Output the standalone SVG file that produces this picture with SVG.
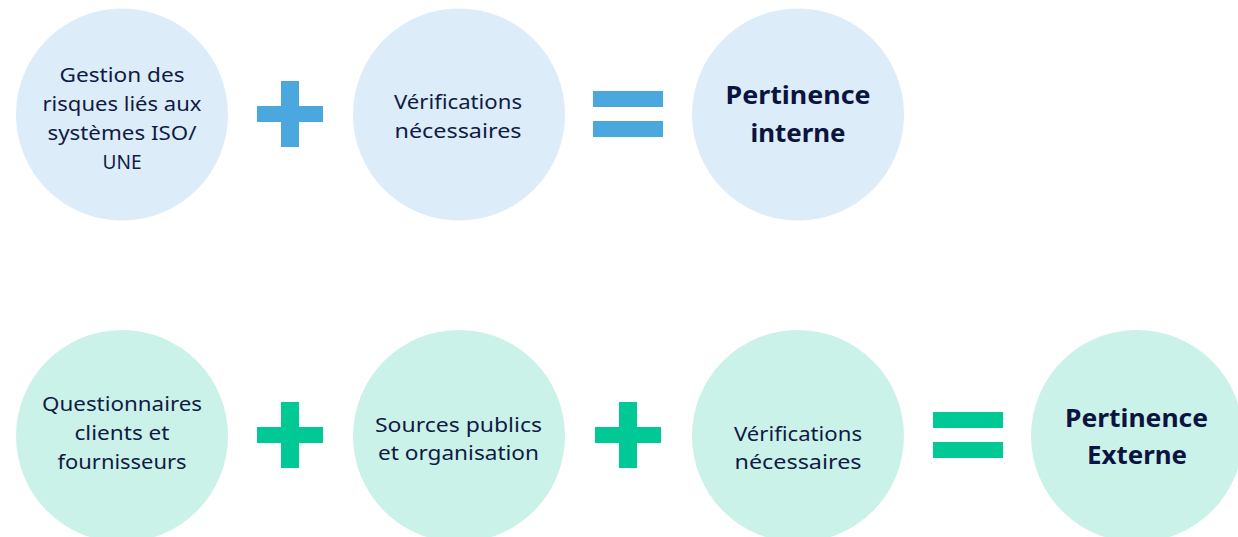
<svg xmlns="http://www.w3.org/2000/svg" xmlns:xlink="http://www.w3.org/1999/xlink" width="1238" height="537" viewBox="0 0 1238 537">
<style>
.blue{fill:#dcecf8}
.mint{fill:#cbf2e8}
.t{font-family:"Noto Sans","Open Sans","Liberation Sans",sans-serif;font-size:20px;fill:#101a45;text-anchor:middle}
.b{font-family:"Noto Sans","Open Sans","Liberation Sans",sans-serif;font-size:25px;font-weight:bold;fill:#0b1440;text-anchor:middle}
.opb{fill:#4aa8de}
.opg{fill:#00c995}
</style>
<defs>
<g id="plus"><rect x="-9" y="-33" width="18" height="66"/><rect x="-33" y="-8" width="66" height="16"/></g>
<g id="eq"><rect x="-35" y="-23" width="70" height="16"/><rect x="-35" y="7" width="70" height="16"/></g>
</defs>
<rect width="1238" height="537" fill="#ffffff"/>
<g id="connectors">
<use xlink:href="#plus" href="#plus" x="290" y="114" class="opb"/>
<use xlink:href="#eq" href="#eq" x="628" y="114" class="opb"/>
<use xlink:href="#plus" href="#plus" x="290" y="435" class="opg"/>
<use xlink:href="#plus" href="#plus" x="628" y="435" class="opg"/>
<use xlink:href="#eq" href="#eq" x="968" y="435" class="opg"/>
</g>
<g id="node-gestion">
<circle cx="122" cy="114.5" r="106" class="blue"/>
<text class="t" x="122" y="82" textLength="125" lengthAdjust="spacingAndGlyphs">Gestion des</text>
<text class="t" x="122" y="111" textLength="159" lengthAdjust="spacingAndGlyphs">risques liés aux</text>
<text class="t" x="122" y="140" textLength="149" lengthAdjust="spacingAndGlyphs">systèmes ISO/</text>
<text class="t" x="122" y="169" textLength="39" lengthAdjust="spacingAndGlyphs">UNE</text>
</g>
<g id="node-verif-1">
<circle cx="459" cy="114.5" r="106" class="blue"/>
<text class="t" x="458" y="109" textLength="128" lengthAdjust="spacingAndGlyphs">Vérifications</text>
<text class="t" x="458" y="138" textLength="127" lengthAdjust="spacingAndGlyphs">nécessaires</text>
</g>
<g id="node-interne">
<circle cx="798" cy="114.5" r="106" class="blue"/>
<text class="b" x="798" y="104" textLength="145" lengthAdjust="spacingAndGlyphs">Pertinence</text>
<text class="b" x="798" y="142" textLength="95" lengthAdjust="spacingAndGlyphs">interne</text>
</g>
<g id="node-questionnaires">
<circle cx="122" cy="436" r="106" class="mint"/>
<text class="t" x="122" y="411" textLength="160" lengthAdjust="spacingAndGlyphs">Questionnaires</text>
<text class="t" x="122" y="440" textLength="95" lengthAdjust="spacingAndGlyphs">clients et</text>
<text class="t" x="122" y="469" textLength="129" lengthAdjust="spacingAndGlyphs">fournisseurs</text>
</g>
<g id="node-sources">
<circle cx="459" cy="436" r="106" class="mint"/>
<text class="t" x="458.5" y="432" textLength="167" lengthAdjust="spacingAndGlyphs">Sources publics</text>
<text class="t" x="458.5" y="460" textLength="161" lengthAdjust="spacingAndGlyphs">et organisation</text>
</g>
<g id="node-verif-2">
<circle cx="798" cy="436" r="106" class="mint"/>
<text class="t" x="798" y="441" textLength="128" lengthAdjust="spacingAndGlyphs">Vérifications</text>
<text class="t" x="798" y="469" textLength="127" lengthAdjust="spacingAndGlyphs">nécessaires</text>
</g>
<g id="node-externe">
<circle cx="1137" cy="436" r="106" class="mint"/>
<text class="b" x="1136.5" y="427" textLength="143" lengthAdjust="spacingAndGlyphs">Pertinence</text>
<text class="b" x="1137" y="464" textLength="100" lengthAdjust="spacingAndGlyphs">Externe</text>
</g>
</svg>
